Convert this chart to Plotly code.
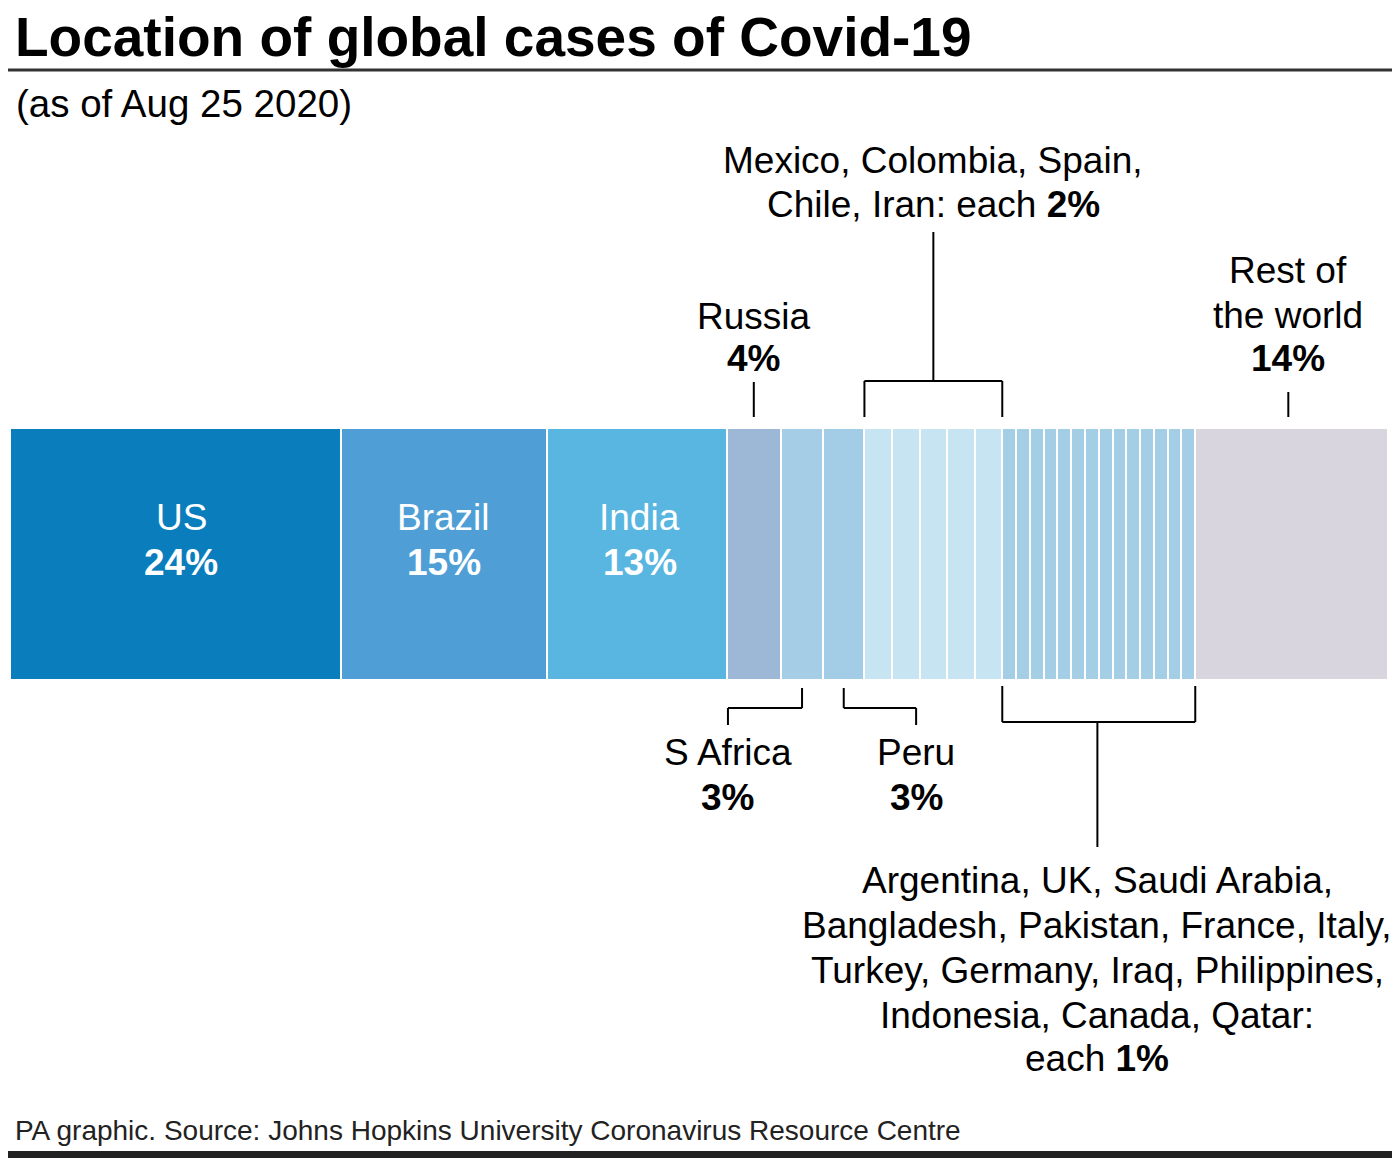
import plotly.graph_objects as go

# ---- data ----
countries = ["US", "Brazil", "India", "Russia", "S Africa", "Peru",
             "Mexico", "Colombia", "Spain", "Chile", "Iran",
             "Argentina", "UK", "Saudi Arabia", "Bangladesh", "Pakistan", "France", "Italy",
             "Turkey", "Germany", "Iraq", "Philippines", "Indonesia", "Canada", "Qatar",
             "Rest of the world"]
shares = [24.0, 15.0, 13.0, 3.95, 3.05, 3.0,
          2.0, 2.0, 2.0, 2.0, 2.0,
          1.0, 1.0, 1.0, 1.0, 1.0, 1.0, 1.0,
          1.0, 1.0, 1.0, 1.0, 1.0, 1.0, 1.0,
          14.0]
groups = ["US", "Brazil", "India", "Russia", "SAfrica", "Peru"] + ["mid"] * 5 + ["small"] * 14 + ["rest"]
group_colors = {
    "US": "#0a7dbd", "Brazil": "#4f9fd6", "India": "#58b6e0", "Russia": "#9db7d6",
    "SAfrica": "#a5cee6", "Peru": "#a3cde6", "mid": "#c6e4f2", "small": "#a4cde6",
    "rest": "#d8d5de",
}

W, H = 1400, 1158
OFF = 8  # page body margin
FONT = "Liberation Sans, Arial, sans-serif"
LBL = 37

fig = go.Figure()
for name, v, g in zip(countries, shares, groups):
    fig.add_trace(go.Bar(
        x=[v], y=[554], width=[252], orientation="h", name=name,
        marker=dict(color=group_colors[g], line=dict(color="white", width=2.5)),
        hoverinfo="x+name", showlegend=False,
    ))

# cumulative positions
cum = [0]
for v in shares:
    cum.append(cum[-1] + v)
start = dict(zip(countries, cum[:-1]))
end = dict(zip(countries, cum[1:]))
center = {c: (start[c] + end[c]) / 2 for c in countries}

annotations = []
def txt(x, y, text, size=LBL, color="black", xref="x", anchor="center", xshift=0):
    annotations.append(dict(x=x, y=y, xref=xref, yref="y", text=text, showarrow=False,
                            xanchor=anchor, yanchor="middle", xshift=xshift,
                            font=dict(family=FONT, size=size, color=color)))

# in-bar labels
for c, sh in [("US", 6), ("Brazil", 0), ("India", 3)]:
    txt(center[c], 517, c, color="white", xshift=sh)
    txt(center[c], 562, "<b>%d%%</b>" % round(shares[countries.index(c)]), color="white", xshift=sh)

# Russia
txt(center["Russia"], 316, "Russia")
txt(center["Russia"], 358, "<b>4%</b>")
# Mexico group
mid_start, mid_end = start["Mexico"], end["Iran"]
mid_c = (mid_start + mid_end) / 2
txt(mid_c, 160, "Mexico, Colombia, Spain,")
txt(mid_c, 204, "Chile, Iran: each <b>2%</b>")
# Rest
rest_c = center["Rest of the world"] - 0.25
txt(rest_c, 270, "Rest of")
txt(rest_c, 315, "the world")
txt(rest_c, 358, "<b>14%</b>")
# S Africa / Peru
safr_lab = start["Russia"] + 0.1
peru_lab = center["Peru"] + 5.25
txt(safr_lab, 752, "S Africa")
txt(safr_lab, 797, "<b>3%</b>")
txt(peru_lab, 752, "Peru")
txt(peru_lab, 797, "<b>3%</b>")
# small group
sm_start, sm_end = start["Argentina"], end["Qatar"]
sm_c = (sm_start + sm_end) / 2 - 0.1
for yy, line in zip([880, 925, 970, 1015, 1058],
                    ["Argentina, UK, Saudi Arabia,",
                     "Bangladesh, Pakistan, France, Italy,",
                     "Turkey, Germany, Iraq, Philippines,",
                     "Indonesia, Canada, Qatar:",
                     "each <b>1%</b>"]):
    txt(sm_c, yy, line)

# title etc (paper x)
def px(xscreen):
    return (xscreen - OFF) / W

annotations.append(dict(x=px(14), y=37, xref="paper", yref="y", text="<b>Location of global cases of Covid-19</b>",
                        showarrow=False, xanchor="left", yanchor="middle", borderpad=0,
                        font=dict(family=FONT, size=55, color="black")))
annotations.append(dict(x=px(14), y=103, xref="paper", yref="y", text="(as of Aug 25 2020)",
                        showarrow=False, xanchor="left", yanchor="middle",
                        font=dict(family=FONT, size=38.5, color="black")))
annotations.append(dict(x=px(13), y=1130, xref="paper", yref="y",
                        text="PA graphic. Source: Johns Hopkins University Coronavirus Resource Centre",
                        showarrow=False, xanchor="left", yanchor="middle",
                        font=dict(family=FONT, size=28, color="#222")))

shapes = []
def seg(x0, y0, x1, y1):
    shapes.append(dict(type="line", xref="x", yref="y", x0=x0, y0=y0, x1=x1, y1=y1,
                       line=dict(color="black", width=2)))

# Russia tick
seg(center["Russia"], 382, center["Russia"], 417)
# mid bracket
seg(mid_start, 417, mid_start, 381)
seg(mid_start, 381, mid_end, 381)
seg(mid_end, 381, mid_end, 417)
seg(mid_c, 381, mid_c, 232)
# rest tick
seg(rest_c, 392, rest_c, 417)
# S Africa
seg(center["S Africa"], 688, center["S Africa"], 708)
seg(center["S Africa"], 708, safr_lab, 708)
seg(safr_lab, 708, safr_lab, 725)
# Peru
seg(center["Peru"], 688, center["Peru"], 708)
seg(center["Peru"], 708, peru_lab, 708)
seg(peru_lab, 708, peru_lab, 725)
# small bracket
seg(sm_start, 686, sm_start, 722)
seg(sm_start, 722, sm_end, 722)
seg(sm_end, 722, sm_end, 686)
seg(sm_c, 722, sm_c, 847)

# title underline and bottom rule
shapes.append(dict(type="line", xref="paper", yref="y", x0=0, x1=1, y0=70, y1=70,
                   line=dict(color="#333", width=3)))
shapes.append(dict(type="rect", xref="paper", yref="y", x0=0, x1=1, y0=1151, y1=1170,
                   line=dict(width=0), fillcolor="#222"))

scale = 13.785
x0px = 9.75 - OFF
fig.update_layout(
    barmode="stack", width=W, height=H,
    margin=dict(l=0, r=0, t=0, b=0),
    paper_bgcolor="white", plot_bgcolor="white",
    xaxis=dict(range=[-x0px / scale, (W - x0px) / scale], visible=False, fixedrange=True),
    yaxis=dict(range=[H + OFF, OFF], visible=False, fixedrange=True),
    annotations=annotations, shapes=shapes,
    bargap=0,
)
fig.write_html("out.html")
